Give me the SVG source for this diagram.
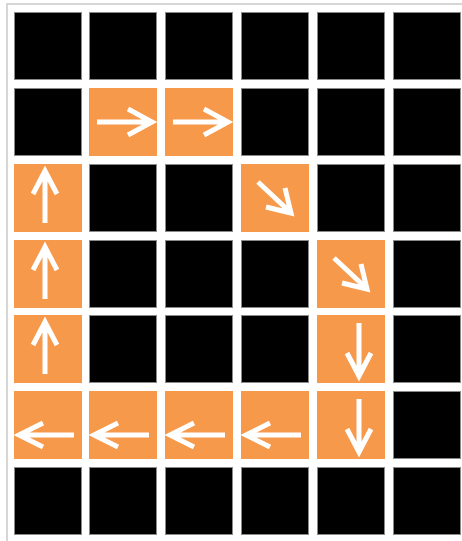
<svg xmlns="http://www.w3.org/2000/svg" width="462" height="541" viewBox="0 0 462 541">
<style>
.blk{fill:#000;stroke:#8a8a8a;stroke-width:1}
.org{fill:#F7994A}
.arr{fill:none;stroke:#fff;stroke-width:5;stroke-linecap:butt;stroke-linejoin:miter}
</style>
<defs>
<g id="aR"><path class="arr" d="M8 34H62M39 21L63 34L39 47"/></g>
<g id="aL"><path class="arr" d="M60 44H6M29 32L5 44L29 56"/></g>
<g id="aU"><path class="arr" d="M31 59V8M19 30L31 7L43 30"/></g>
<g id="aD"><path class="arr" d="M42 8V60M30 38L42 61L54 38"/></g>
<g id="aDR"><path class="arr" d="M17 18L48 47M25 43L50 49L44 24"/></g>
</defs>
<rect x="7" y="4" width="470" height="560" fill="#fff" stroke="#cccccc" stroke-width="1.6"/>
<g id="cells">
<g id="r0">
<rect class="blk" x="14.5" y="12.5" width="67" height="67"/>
<rect class="blk" x="89.5" y="12.5" width="67" height="67"/>
<rect class="blk" x="165.5" y="12.5" width="67" height="67"/>
<rect class="blk" x="241.5" y="12.5" width="67" height="67"/>
<rect class="blk" x="317.5" y="12.5" width="67" height="67"/>
<rect class="blk" x="393.5" y="12.5" width="67" height="67"/>
</g>
<g id="r1">
<rect class="blk" x="14.5" y="88.5" width="67" height="67"/>
<g id="c1_1"><rect class="org" x="89" y="88" width="68" height="68"/><use href="#aR" x="89" y="88"/></g>
<g id="c2_1"><rect class="org" x="165" y="88" width="68" height="68"/><use href="#aR" x="165" y="88"/></g>
<rect class="blk" x="241.5" y="88.5" width="67" height="67"/>
<rect class="blk" x="317.5" y="88.5" width="67" height="67"/>
<rect class="blk" x="393.5" y="88.5" width="67" height="67"/>
</g>
<g id="r2">
<g id="c0_2"><rect class="org" x="14" y="164" width="68" height="68"/><use href="#aU" x="14" y="164"/></g>
<rect class="blk" x="89.5" y="164.5" width="67" height="67"/>
<rect class="blk" x="165.5" y="164.5" width="67" height="67"/>
<g id="c3_2"><rect class="org" x="241" y="164" width="68" height="68"/><use href="#aDR" x="241" y="164"/></g>
<rect class="blk" x="317.5" y="164.5" width="67" height="67"/>
<rect class="blk" x="393.5" y="164.5" width="67" height="67"/>
</g>
<g id="r3">
<g id="c0_3"><rect class="org" x="14" y="240" width="68" height="68"/><use href="#aU" x="14" y="240"/></g>
<rect class="blk" x="89.5" y="240.5" width="67" height="67"/>
<rect class="blk" x="165.5" y="240.5" width="67" height="67"/>
<rect class="blk" x="241.5" y="240.5" width="67" height="67"/>
<g id="c4_3"><rect class="org" x="317" y="240" width="68" height="68"/><use href="#aDR" x="317" y="240"/></g>
<rect class="blk" x="393.5" y="240.5" width="67" height="67"/>
</g>
<g id="r4">
<g id="c0_4"><rect class="org" x="14" y="315" width="68" height="68"/><use href="#aU" x="14" y="315"/></g>
<rect class="blk" x="89.5" y="315.5" width="67" height="67"/>
<rect class="blk" x="165.5" y="315.5" width="67" height="67"/>
<rect class="blk" x="241.5" y="315.5" width="67" height="67"/>
<g id="c4_4"><rect class="org" x="317" y="315" width="68" height="68"/><use href="#aD" x="317" y="315"/></g>
<rect class="blk" x="393.5" y="315.5" width="67" height="67"/>
</g>
<g id="r5">
<g id="c0_5"><rect class="org" x="14" y="391" width="68" height="68"/><use href="#aL" x="14" y="391"/></g>
<g id="c1_5"><rect class="org" x="89" y="391" width="68" height="68"/><use href="#aL" x="89" y="391"/></g>
<g id="c2_5"><rect class="org" x="165" y="391" width="68" height="68"/><use href="#aL" x="165" y="391"/></g>
<g id="c3_5"><rect class="org" x="241" y="391" width="68" height="68"/><use href="#aL" x="241" y="391"/></g>
<g id="c4_5"><rect class="org" x="317" y="391" width="68" height="68"/><use href="#aD" x="317" y="391"/></g>
<rect class="blk" x="393.5" y="391.5" width="67" height="67"/>
</g>
<g id="r6">
<rect class="blk" x="14.5" y="467.5" width="67" height="67"/>
<rect class="blk" x="89.5" y="467.5" width="67" height="67"/>
<rect class="blk" x="165.5" y="467.5" width="67" height="67"/>
<rect class="blk" x="241.5" y="467.5" width="67" height="67"/>
<rect class="blk" x="317.5" y="467.5" width="67" height="67"/>
<rect class="blk" x="393.5" y="467.5" width="67" height="67"/>
</g>
</g>
</svg>
